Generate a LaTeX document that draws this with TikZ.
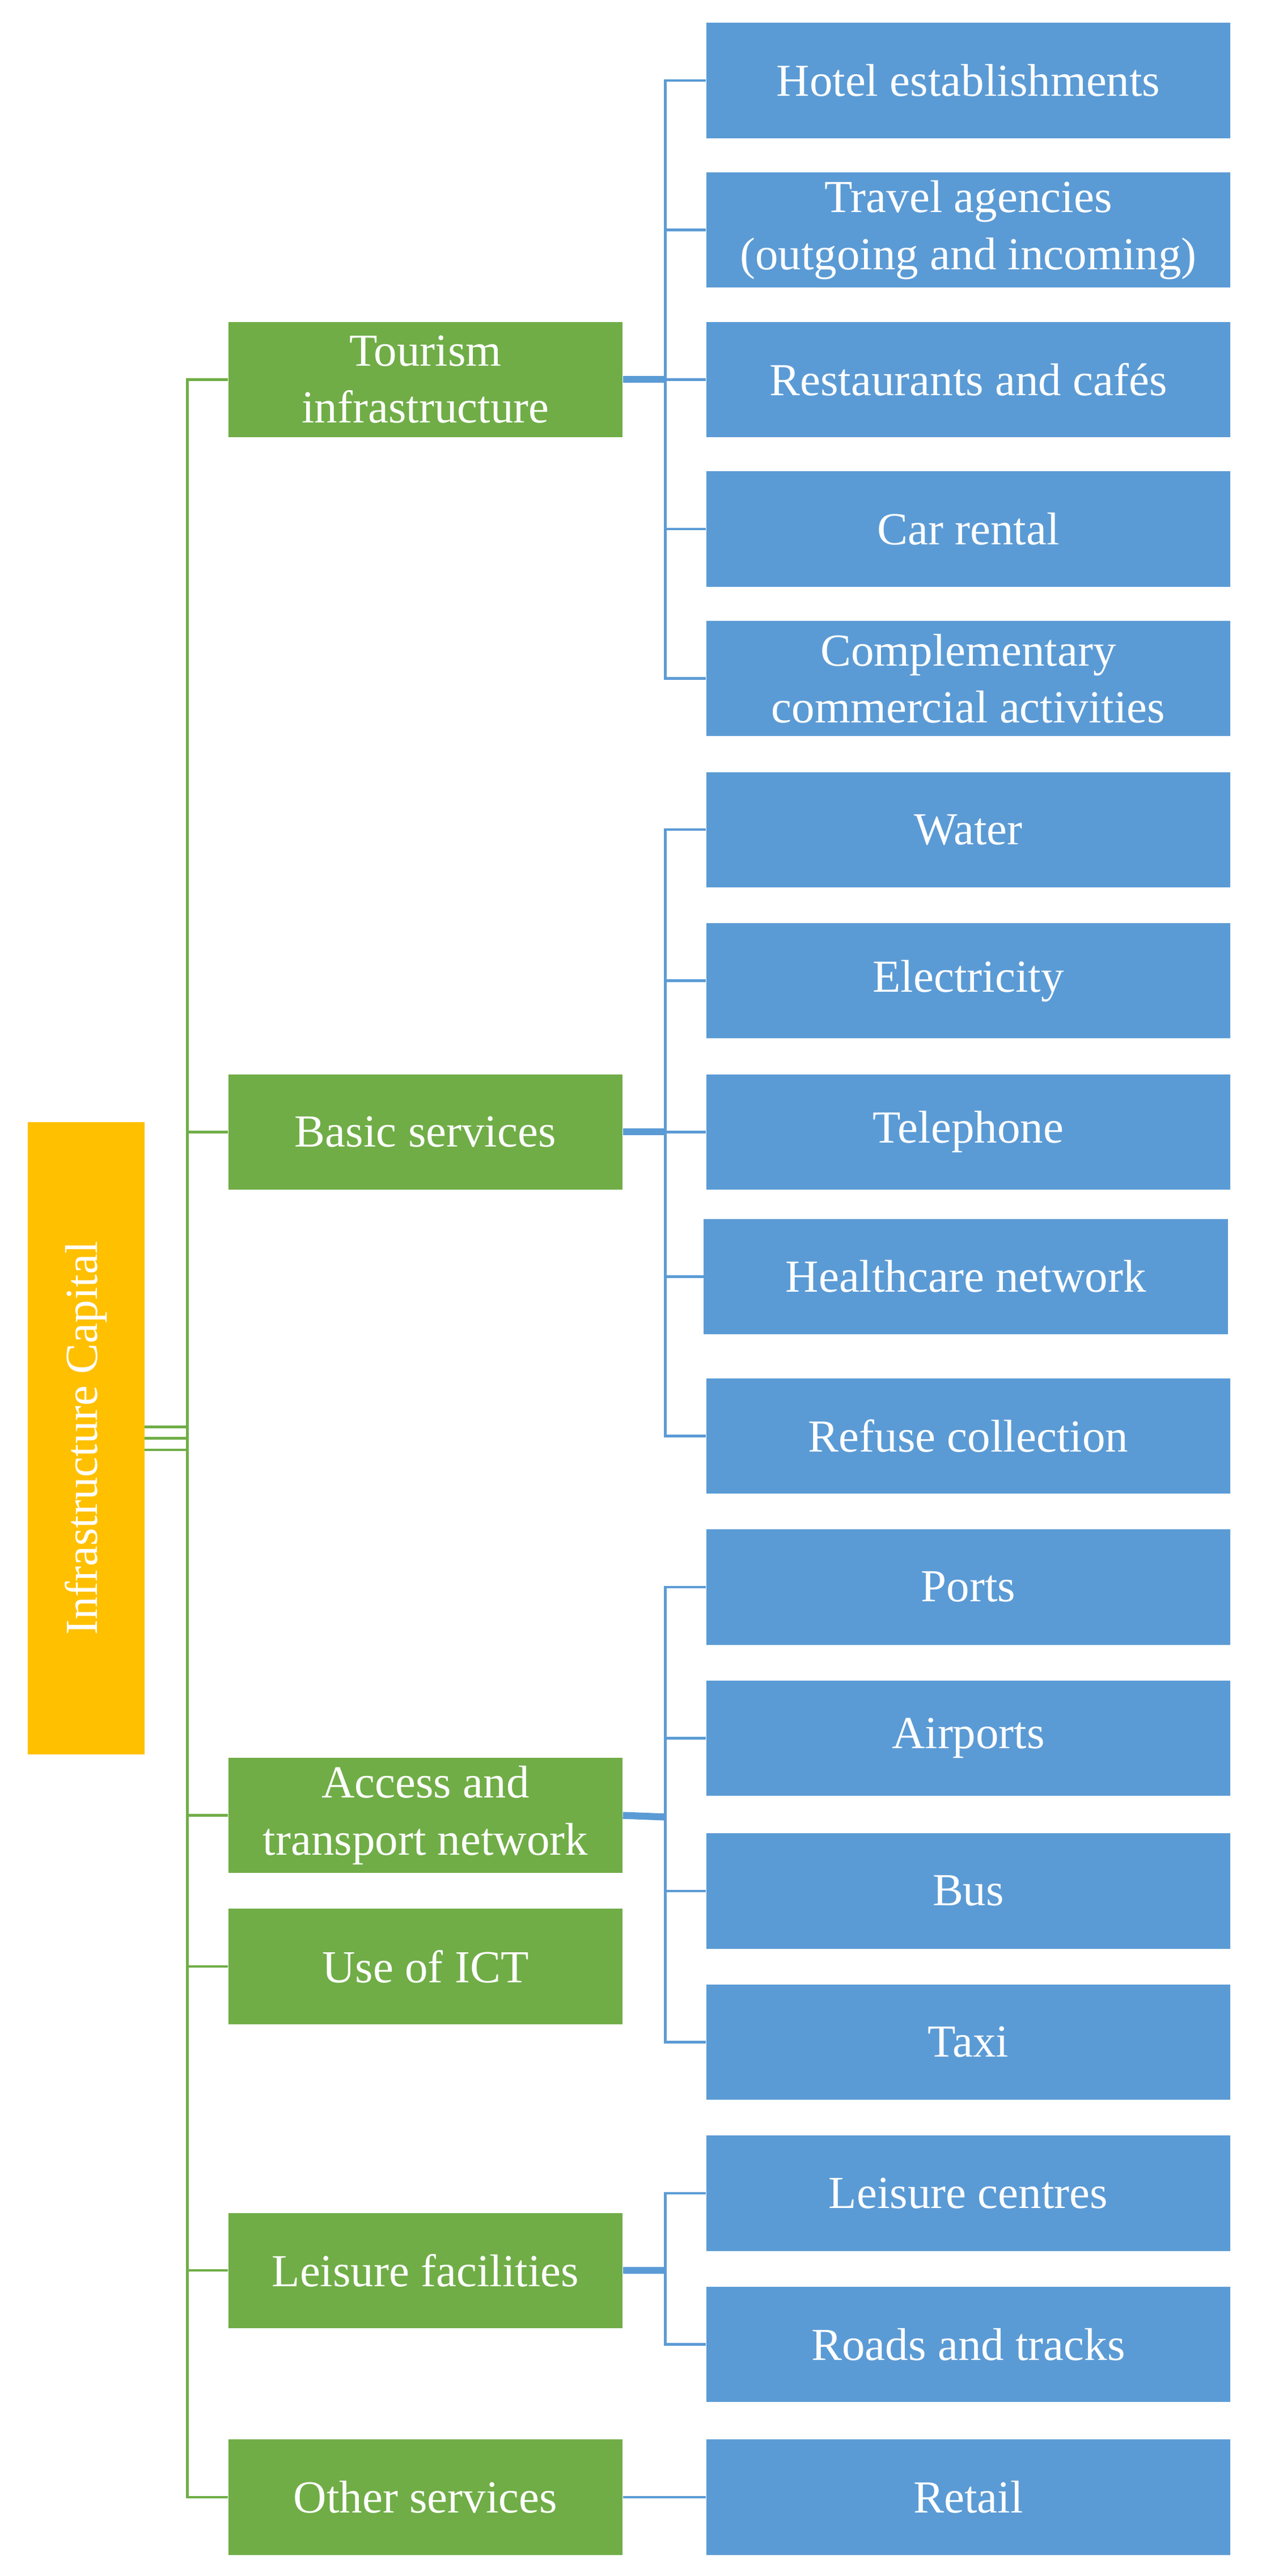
\documentclass[tikz,border=0pt]{standalone}
\usepackage{fontspec}
\setmainfont{Liberation Serif}
\definecolor{grn}{HTML}{70AD47}
\definecolor{blu}{HTML}{5B9BD5}
\definecolor{ylw}{HTML}{FFC000}
\begin{document}
\begin{tikzpicture}
    [x=0.02893cm, y=-0.02893cm,
     box/.style={draw=none, text=white, align=center, inner sep=0pt,
                 font=\fontsize{23}{28.5}\selectfont},
     cat/.style={box, fill=grn, minimum width=6.94cm, minimum height=2.03cm},
     item/.style={box, fill=blu, minimum width=9.23cm, minimum height=2.03cm},
     trunk/.style={draw=grn, line width=1.3pt},
     branch/.style={draw=blu, line width=1.3pt},
     stub/.style={draw=blu, line width=3.5pt}]
    \useasboundingbox (0,0) rectangle (768,1568);
    % Root
    \node[box, fill=ylw, minimum width=2.05cm, minimum height=11.14cm] (cap) at (52.5,875.5)
        {\rotatebox{90}{Infrastructure Capital}};
    % Categories
    \node[cat] (tour) at (259,231) {Tourism\\infrastructure};
    \node[cat] (basic) at (259,689) {Basic services};
    \node[cat] (access) at (259,1105) {Access and\\transport network};
    \node[cat] (ict) at (259,1197) {Use of ICT};
    \node[cat] (leis) at (259,1382) {Leisure facilities};
    \node[cat] (other) at (259,1520) {Other services};
    % Items
    \node[item] (hotel) at (589.5,49) {Hotel establishments};
    \node[item] (travel) at (589.5,140) {Travel agencies\\(outgoing and incoming)};
    \node[item] (rest) at (589.5,231) {Restaurants and cafés};
    \node[item] (car) at (589.5,322) {Car rental};
    \node[item] (compl) at (589.5,413) {Complementary\\commercial activities};
    \node[item] (water) at (589.5,505) {Water};
    \node[item] (elec) at (589.5,597) {Electricity};
    \node[item] (tel) at (589.5,689) {Telephone};
    \node[item] (health) at (588,777) {Healthcare network};
    \node[item] (refuse) at (589.5,874) {Refuse collection};
    \node[item] (ports) at (589.5,966) {Ports};
    \node[item] (air) at (589.5,1058) {Airports};
    \node[item] (bus) at (589.5,1151) {Bus};
    \node[item] (taxi) at (589.5,1243) {Taxi};
    \node[item] (lcent) at (589.5,1335) {Leisure centres};
    \node[item] (roads) at (589.5,1427) {Roads and tracks};
    \node[item] (retail) at (589.5,1520) {Retail};
    % Trunk
    \coordinate (tr) at (114,883);
    \foreach \dy in {-7,0,7}
        \draw[trunk] ([yshift=-\dy*0.02893cm]cap.east) -- ++(26,0);
    \foreach \c in {tour,basic,access,ict,leis,other}
        \draw[trunk] (\c.west) -| (tr);
    % Forks
    \coordinate (ftour) at (405,231);
    \coordinate (fbasic) at (405,689);
    \coordinate (faccess) at (405,1106);
    \coordinate (fleis) at (405,1382);
    \foreach \p/\kids in {tour/{hotel,travel,rest,car,compl},
                          basic/{water,elec,tel,health,refuse},
                          access/{ports,air,bus,taxi},
                          leis/{lcent,roads}} {
        \draw[stub] (\p.east) -- (f\p);
        \foreach \k in \kids
            \draw[branch] (\k.west) -| (f\p);
    }
    \draw[branch] (other.east) -- (retail.west);
\end{tikzpicture}
\end{document}
